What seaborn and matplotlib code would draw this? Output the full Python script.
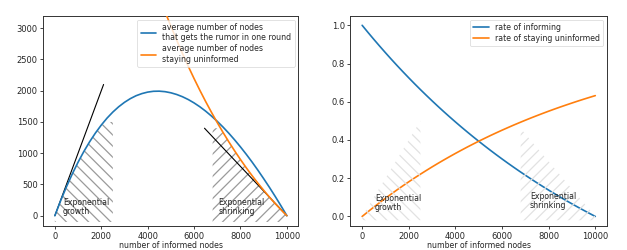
import matplotlib
matplotlib.use("Agg")
import matplotlib.pyplot as plt
import seaborn as sns
import pandas as pd

# ---------------- data ----------------
informed = [0, 250, 500, 750, 1000, 1250, 1500, 1750, 2000, 2250, 2500,
            2750, 3000, 3250, 3500, 3750, 4000, 4250, 4500, 4750, 5000,
            5250, 5500, 5750, 6000, 6250, 6500, 6750, 7000, 7250, 7500,
            7750, 8000, 8250, 8500, 8750, 9000, 9250, 9500, 9750, 10000]

avg_new_informed = [0, 241, 463, 668, 856, 1028, 1184, 1324, 1450, 1562, 1659,
                    1743, 1814, 1873, 1920, 1954, 1978, 1991, 1993, 1985, 1967,
                    1940, 1904, 1859, 1805, 1743, 1673, 1595, 1510, 1418, 1319,
                    1213, 1101, 983, 859, 729, 593, 453, 307, 156, 0]
avg_uninformed = [10000, 9509, 9037, 8582, 8144, 7722, 7316, 6926, 6550, 6188, 5841,
                  5507, 5186, 4877, 4580, 4296, 4022, 3759, 3507, 3265, 3033,
                  2810, 2596, 2391, 2195, 2007, 1827, 1655, 1490, 1332, 1181,
                  1037, 899, 767, 641, 521, 407, 297, 193, 94, 0]

rate_informing = [1.0, 0.9629, 0.9266, 0.8912, 0.8565, 0.8225, 0.7893, 0.7569,
                  0.7251, 0.6940, 0.6636, 0.6339, 0.6048, 0.5763, 0.5484, 0.5212,
                  0.4945, 0.4684, 0.4429, 0.4179, 0.3935, 0.3696, 0.3461, 0.3232,
                  0.3008, 0.2788, 0.2574, 0.2363, 0.2158, 0.1956, 0.1759, 0.1566,
                  0.1377, 0.1192, 0.1010, 0.0833, 0.0659, 0.0489, 0.0323, 0.0160, 0.0]
rate_uninformed = [0.0, 0.0247, 0.0488, 0.0723, 0.0952, 0.1175, 0.1393, 0.1605,
                   0.1813, 0.2015, 0.2212, 0.2404, 0.2592, 0.2775, 0.2953, 0.3127,
                   0.3297, 0.3462, 0.3624, 0.3781, 0.3935, 0.4084, 0.4231, 0.4373,
                   0.4512, 0.4647, 0.4780, 0.4908, 0.5034, 0.5157, 0.5276, 0.5393,
                   0.5507, 0.5618, 0.5726, 0.5831, 0.5934, 0.6035, 0.6133, 0.6228, 0.6321]

# tangent lines (left chart)
tangent_growth_x = [0, 2100]
tangent_growth_y = [0, 2100]
tangent_shrink_x = [6450, 10000]
tangent_shrink_y = [1400, 0]

# hatched regions
left_growth_x = [0, 250, 500, 750, 1000, 1250, 1500, 1750, 2000, 2250, 2500]
left_growth_top = [0, 241, 463, 668, 856, 1028, 1184, 1324, 1450, 1500, 1500]
left_shrink_x = [6800, 7000, 7250, 7500, 7750, 8000, 8250, 8500, 8750, 9000,
                 9250, 9500, 9750, 10000]
left_shrink_top = [1400, 1400, 1332, 1181, 1037, 899, 767, 641, 521, 407,
                   297, 193, 94, 0]

right_growth_x = [0, 2500]
right_growth_top = [0.0, 0.5]
right_shrink_x = [6800, 10000]
right_shrink_top = [0.46, 0.0]

legend_left = ["average number of nodes\nthat gets the rumor in one round",
               "average number of nodes\nstaying uninformed"]
legend_right = ["rate of informing", "rate of staying uninformed"]
xlabel = "number of informed nodes"

# ---------------- style ----------------
sns.set_style("ticks")
plt.rcParams['font.family'] = ['DejaVu Sans']
FS = 5.6
TFS = 6.0
BLUE = "#1f77b4"
ORANGE = "#ff7f0e"

fig = plt.figure(figsize=(6.27, 2.5), dpi=100)
ax1 = fig.add_axes([0.069, 0.096, 0.407, 0.841])
ax2 = fig.add_axes([0.559, 0.096, 0.409, 0.841])

df = pd.DataFrame({"x": informed, "new": avg_new_informed, "unf": avg_uninformed,
                   "ri": rate_informing, "ru": rate_uninformed})

# ---------------- left chart ----------------
plt.rcParams['hatch.linewidth'] = 0.9
ax1.fill_between(left_growth_x, -100, left_growth_top, facecolor='none',
                 edgecolor='#9a9a9a', hatch='\\\\\\', linewidth=0, zorder=1)
ax1.fill_between(left_shrink_x, -100, left_shrink_top, facecolor='none',
                 edgecolor='#9a9a9a', hatch='///', linewidth=0, zorder=1)

sns.lineplot(data=df, x="x", y="new", ax=ax1, color=BLUE, lw=1.2,
             label=legend_left[0], zorder=3)
sns.lineplot(data=df, x="x", y="unf", ax=ax1, color=ORANGE, lw=1.2,
             label=legend_left[1], zorder=3)
ax1.plot(tangent_growth_x, tangent_growth_y, color='black', lw=0.8, zorder=2)
ax1.plot(tangent_shrink_x, tangent_shrink_y, color='black', lw=0.8, zorder=2)

ax1.text(350, 30, "Exponential\ngrowth", fontsize=FS, zorder=4, linespacing=1.0)
ax1.text(7050, 30, "Exponential\nshrinking", fontsize=FS, zorder=4, linespacing=1.0)

ax1.set_xlim(-500, 10500)
ax1.set_ylim(-165, 3200)
ax1.set_xticks([0, 2000, 4000, 6000, 8000, 10000])
ax1.set_yticks([0, 500, 1000, 1500, 2000, 2500, 3000])
ax1.set_xlabel(xlabel, fontsize=FS, labelpad=0.5)
ax1.set_ylabel("")
ax1.tick_params(labelsize=TFS, length=2.5, width=0.6, pad=1.5)
leg1 = ax1.legend(loc='upper right', fontsize=FS, frameon=True, handlelength=2,
                  borderpad=0.4, labelspacing=0.3, framealpha=0.8, fancybox=True,
                  borderaxespad=0.5)
leg1.get_frame().set_linewidth(0.5)

# ---------------- right chart ----------------
sns.lineplot(data=df, x="x", y="ri", ax=ax2, color=BLUE, lw=1.2,
             label=legend_right[0], zorder=2)
sns.lineplot(data=df, x="x", y="ru", ax=ax2, color=ORANGE, lw=1.2,
             label=legend_right[1], zorder=2)
ax2.fill_between(right_growth_x, -0.02, right_growth_top, facecolor='none',
                 edgecolor='#e2e2e2', hatch='\\\\\\', linewidth=0, zorder=3)
ax2.fill_between(right_shrink_x, -0.02, right_shrink_top, facecolor='none',
                 edgecolor='#e2e2e2', hatch='///', linewidth=0, zorder=3)

ax2.text(550, 0.035, "Exponential\ngrowth", fontsize=FS, zorder=4, linespacing=1.0)
ax2.text(7200, 0.045, "Exponential\nshrinking", fontsize=FS, zorder=4, linespacing=1.0)

ax2.set_xlim(-500, 10500)
ax2.set_ylim(-0.05, 1.05)
ax2.set_xticks([0, 2000, 4000, 6000, 8000, 10000])
ax2.set_yticks([0.0, 0.2, 0.4, 0.6, 0.8, 1.0])
ax2.set_yticklabels(["0.0", "0.2", "0.4", "0.6", "0.8", "1.0"])
ax2.set_xlabel(xlabel, fontsize=FS, labelpad=0.5)
ax2.set_ylabel("")
ax2.tick_params(labelsize=TFS, length=2.5, width=0.6, pad=1.5)
leg2 = ax2.legend(loc='upper right', fontsize=FS, frameon=True, handlelength=2,
                  borderpad=0.4, labelspacing=0.3, framealpha=0.8, fancybox=True,
                  borderaxespad=0.5)
leg2.get_frame().set_linewidth(0.5)

for ax in (ax1, ax2):
    for s in ax.spines.values():
        s.set_linewidth(0.7)
        s.set_color('#333333')

fig.savefig("out.png", dpi=100)
